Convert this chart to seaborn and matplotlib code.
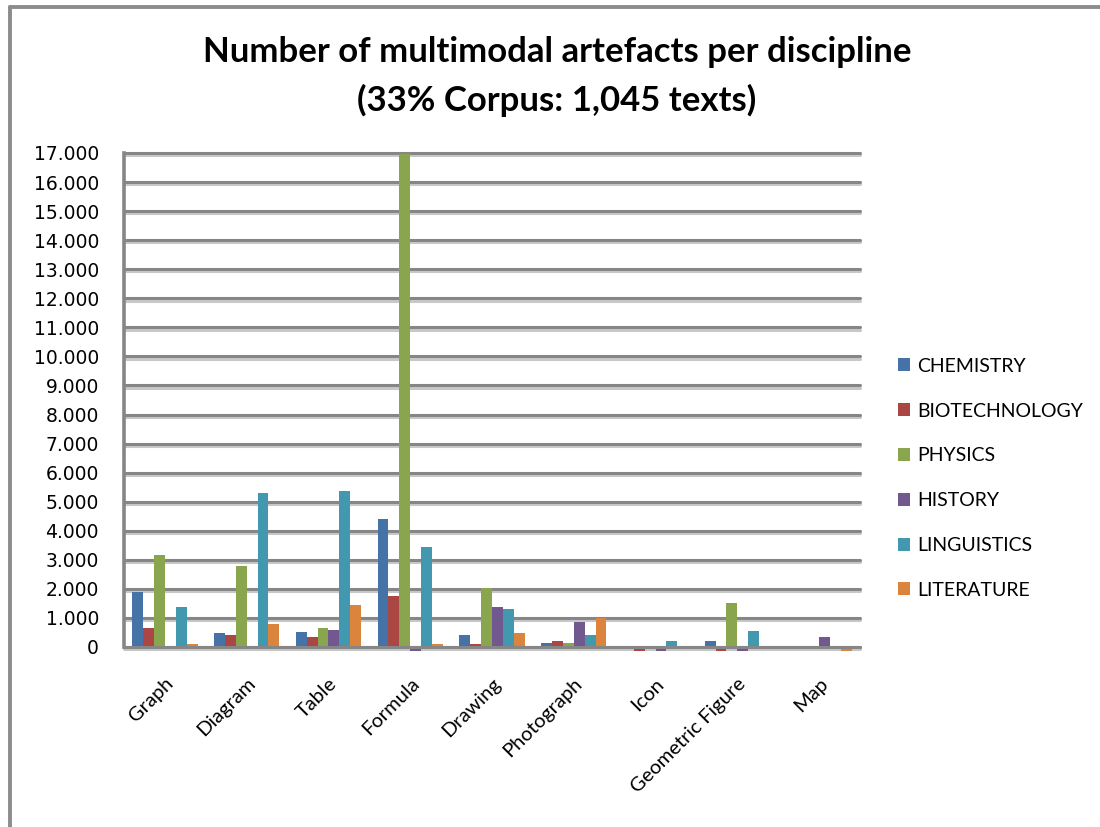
import matplotlib
matplotlib.use("Agg")
import matplotlib.pyplot as plt
import matplotlib.patheffects as pe
from matplotlib.lines import Line2D
from matplotlib.patches import Patch
from matplotlib.ticker import FuncFormatter
import seaborn as sns
import pandas as pd

# Artefact counts per category for each discipline
categories = ["Graph", "Diagram", "Table", "Formula", "Drawing",
              "Photograph", "Icon", "Geometric Figure", "Map"]
disciplines = ["CHEMISTRY", "BIOTECHNOLOGY", "PHYSICS", "HISTORY",
               "LINGUISTICS", "LITERATURE"]
chemistry = [1880, 470, 530, 4400, 400, 130, 0, 190, 0]
biotechnology = [640, 400, 330, 1740, 90, 190, -140, -140, 0]
physics = [3150, 2780, 640, 16950, 2020, 130, 0, 1510, 0]
history = [0, 0, 570, -140, 1370, 850, -140, -140, 330]
linguistics = [1360, 5290, 5360, 3430, 1300, 400, 190, 540, 0]
literature = [90, 780, 1430, 90, 470, 990, 0, 0, -140]
y_ticks = list(range(0, 17001, 1000))

colors = ["#4572A7", "#AA4643", "#89A54E", "#71588F", "#4198AF", "#DB843D"]

series = [chemistry, biotechnology, physics, history, linguistics, literature]
rows = []
for disc, vals in zip(disciplines, series):
    for cat, v in zip(categories, vals):
        rows.append({"Artefact": cat, "Discipline": disc, "Count": v})
df = pd.DataFrame(rows)

sns.set_theme(style="white")
plt.rcParams["font.family"] = ["Lato", "DejaVu Sans"]
plt.rcParams["text.color"] = "black"

fig = plt.figure(figsize=(11, 8.27), dpi=100)
W, H = 1100, 827
ax = fig.add_axes([124 / W, 1 - 647 / H, (860 - 124) / W, (647 - 153) / H])

sns.barplot(data=df, x="Artefact", y="Count", hue="Discipline",
            order=categories, hue_order=disciplines, palette=colors,
            saturation=1, width=0.8, ax=ax, legend=False, zorder=3)
for p in ax.patches:
    p.set_clip_on(False)
    p.set_linewidth(0)

ax.set_ylim(0, 17000)
ax.set_xlim(-0.5, len(categories) - 0.5)
ax.set_yticks(y_ticks)
ax.yaxis.set_major_formatter(
    FuncFormatter(lambda v, _: f"{int(v):,}".replace(",", ".")))
ax.set_xlabel("")
ax.set_ylabel("")

# Horizontal gridlines with a light drop shadow
grid_color = "#868686"
shadow = [pe.SimpleLineShadow(offset=(0, -1.6), shadow_color="#c8c8c8", alpha=1),
          pe.Normal()]
for t in y_ticks[1:]:
    ax.axhline(t, color=grid_color, lw=2.2, zorder=1, path_effects=shadow,
               clip_on=False)
# Baseline: shadow beneath the bars, dark line above them
ax.axhline(0, color=grid_color, lw=2.2, zorder=1, path_effects=shadow,
           clip_on=False)
ax.axhline(0, color=grid_color, lw=2.2, zorder=5, clip_on=False)

for s in ["top", "right", "bottom"]:
    ax.spines[s].set_visible(False)
ax.spines["left"].set_color(grid_color)
ax.spines["left"].set_linewidth(2.6)
ax.spines["left"].set_zorder(6)

ax.tick_params(axis="y", length=0, pad=18, labelsize=13.5, labelcolor="black")
for lab in ax.get_yticklabels():
    lab.set_family(["DejaVu Sans"])
ax.tick_params(axis="x", length=0, pad=20, labelsize=14.5, labelcolor="black")
for lab in ax.get_xticklabels():
    lab.set_rotation(45)
    lab.set_ha("right")
    lab.set_rotation_mode("anchor")

# Title
fig.text(557 / W, 1 - 62 / H, "Number of multimodal artefacts per discipline",
         ha="center", va="baseline", fontsize=25, fontweight="bold",
         color="black")
fig.text(557 / W, 1 - 111 / H, "(33% Corpus: 1,045 texts)",
         ha="center", va="baseline", fontsize=25, fontweight="bold",
         color="black")

# Legend
handles = [Patch(facecolor=c, edgecolor="none", label=d)
           for c, d in zip(colors, disciplines)]
fig.legend(handles=handles, loc="upper left",
           bbox_to_anchor=(890 / W, 1 - 350 / H), frameon=False,
           fontsize=14, handlelength=0.65, handleheight=0.65,
           handletextpad=0.35, labelspacing=1.43, borderaxespad=0)

# Outer chart border (top and left edges)
fig.add_artist(Line2D([10 / W, 10 / W], [0, 1 - 7 / H], color="#8c8c8c",
                      lw=2.8, transform=fig.transFigure))
fig.add_artist(Line2D([10 / W, 1], [1 - 7 / H, 1 - 7 / H], color="#8c8c8c",
                      lw=2.8, transform=fig.transFigure))

fig.savefig("out.png", dpi=100)
